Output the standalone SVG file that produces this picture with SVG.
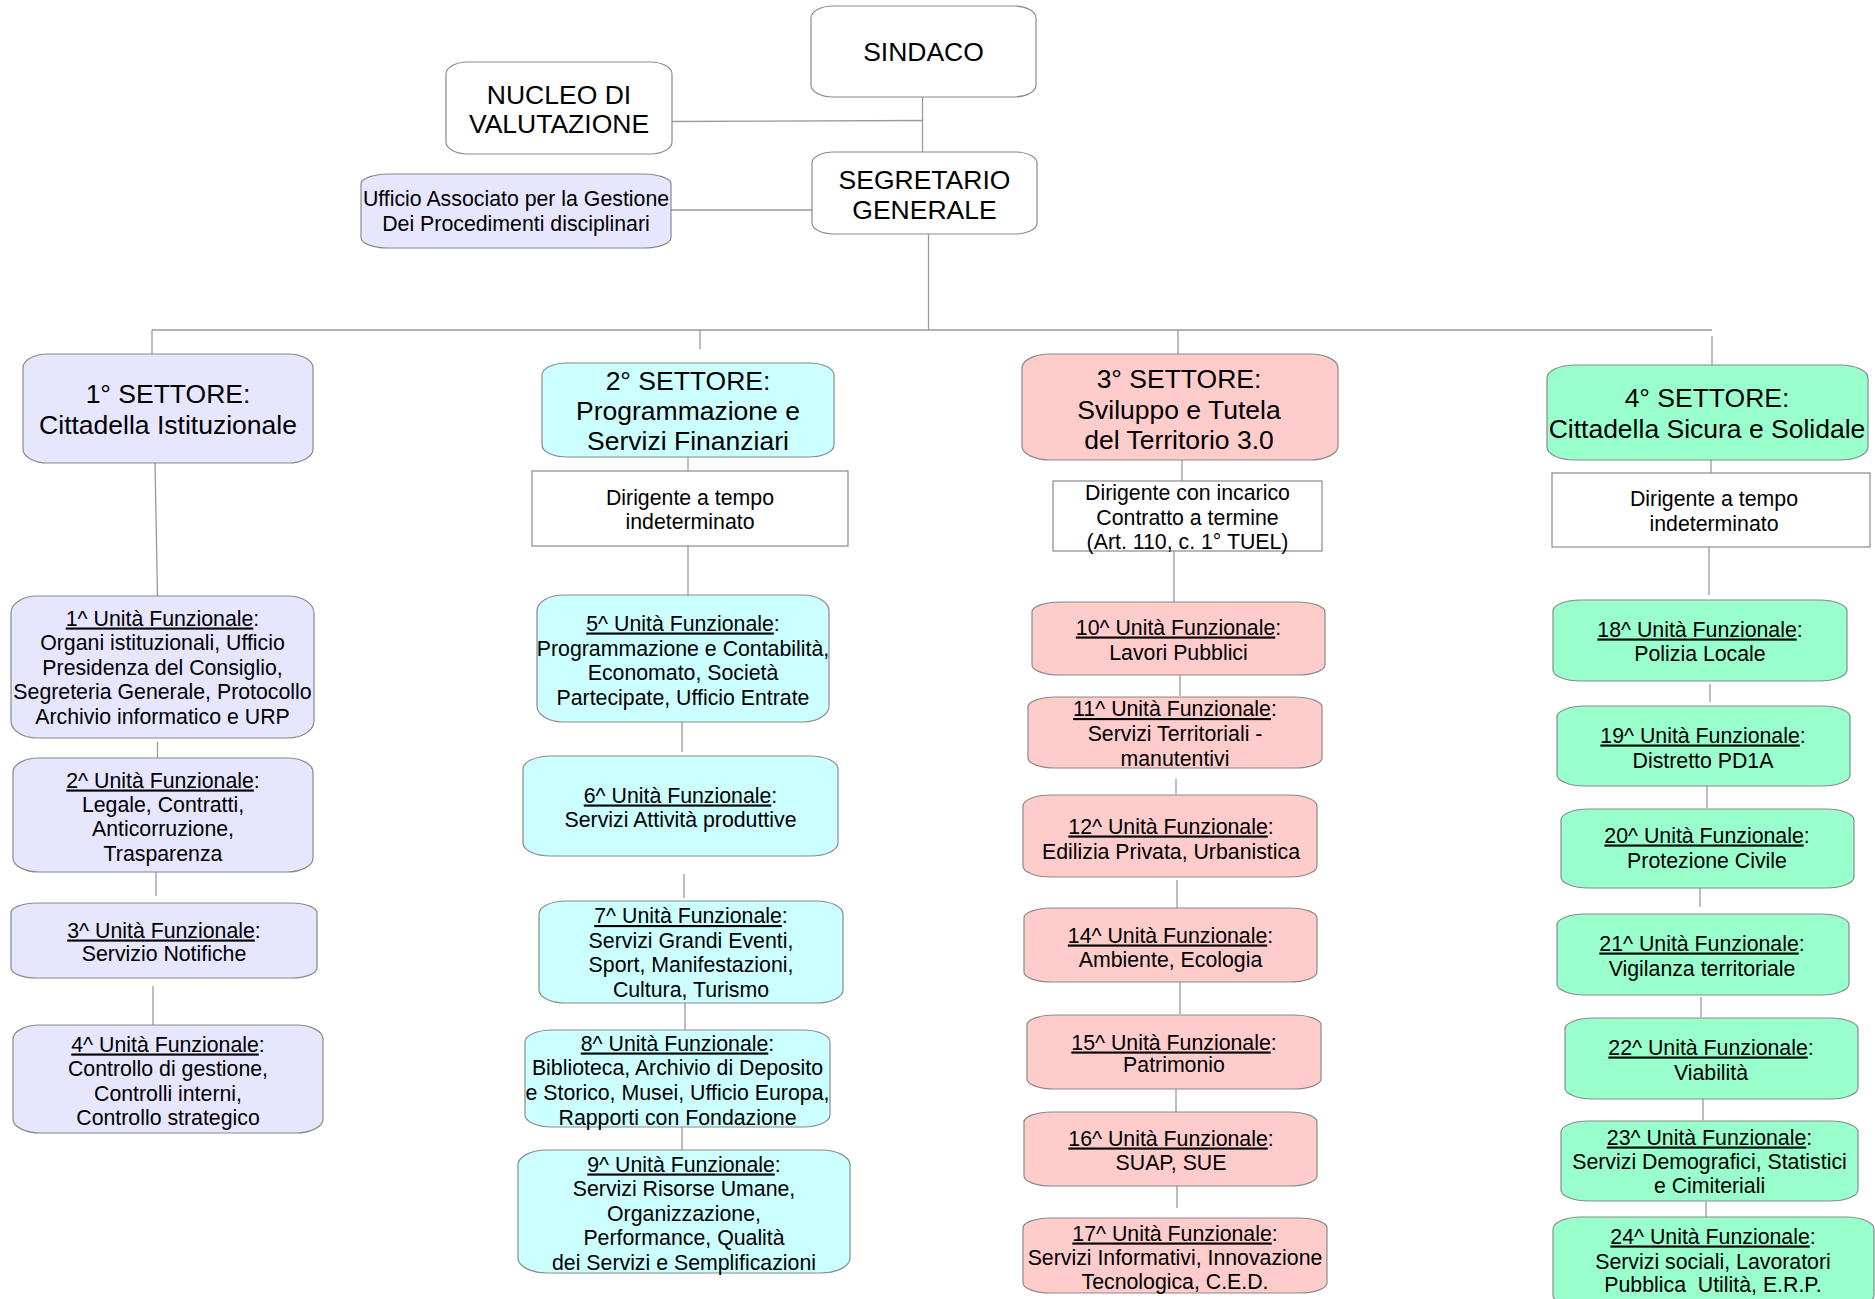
<svg xmlns="http://www.w3.org/2000/svg" width="1875" height="1299" viewBox="0 0 1875 1299">
<style>
.b{stroke:#8a8a8a;stroke-width:1.2}
.wht{fill:#ffffff}
.lav{fill:#e6e6ff}
.cya{fill:#ccffff}
.pnk{fill:#ffcccc}
.grn{fill:#99ffcc}
.t{font-family:"Liberation Sans",Arial,sans-serif;font-size:21.3px;fill:#000;text-anchor:middle}
.T{font-family:"Liberation Sans",Arial,sans-serif;font-size:26.5px;fill:#000;text-anchor:middle}
.u{text-decoration:underline}
#connectors path{fill:none;stroke:#9a9a9a;stroke-width:1.3}
</style>
<rect x="0" y="0" width="1875" height="1299" fill="#ffffff"/>
<g id="connectors">
<path d="M922.5 97 V152"/>
<path d="M672 121.5 L922.5 120.5"/>
<path d="M671 210 H812"/>
<path d="M928.5 234 V330"/>
<path d="M152 330 H1712"/>
<path d="M152 330 V354"/>
<path d="M700 330 V349"/>
<path d="M1178 330 V354"/>
<path d="M1712 336 V365"/>
<path d="M155 463 L157.5 596"/>
<path d="M157.5 742 V758"/>
<path d="M156 872 V896"/>
<path d="M153 986 V1025"/>
<path d="M688 457 V471"/>
<path d="M688 546 V595"/>
<path d="M682 722 V752"/>
<path d="M684 874 V898"/>
<path d="M685 1003 V1030"/>
<path d="M682 1127 V1150"/>
<path d="M1182 460 V482"/>
<path d="M1174 551 V602"/>
<path d="M1180 675 V696"/>
<path d="M1176 779 V794"/>
<path d="M1177 880 V908"/>
<path d="M1180 982 V1014"/>
<path d="M1176 1089 V1112"/>
<path d="M1177 1186 V1208"/>
<path d="M1711 460 V473"/>
<path d="M1709 547 V595"/>
<path d="M1710 684 V702"/>
<path d="M1707 786 V808"/>
<path d="M1700 888 V907"/>
<path d="M1701 997 V1017"/>
<path d="M1703 1099 V1120"/>
<path d="M1706 1201 V1222"/>
</g>

<g id="sindaco"><rect class="b wht" x="811" y="6" width="225" height="91" rx="22" ry="12"/>
<text class="T" x="923.5" y="61">SINDACO</text></g>
<g id="nucleo"><rect class="b wht" x="446" y="62" width="226" height="92" rx="22" ry="12"/>
<text class="T" x="559" y="103.5">NUCLEO DI</text><text class="T" x="559" y="133">VALUTAZIONE</text></g>
<g id="segretario"><rect class="b wht" x="812" y="152" width="225" height="82" rx="22" ry="11"/>
<text class="T" x="924.5" y="189">SEGRETARIO</text><text class="T" x="924.5" y="218.5">GENERALE</text></g>
<g id="ufficio"><rect class="b lav" x="361" y="174" width="310" height="74" rx="28" ry="10"/>
<text class="t" x="516" y="205.5">Ufficio Associato per la Gestione</text><text class="t" x="516" y="231">Dei Procedimenti disciplinari</text></g>

<g id="settore1"><rect class="b lav" x="23" y="354" width="290" height="109" rx="25" ry="14"/>
<text class="T" x="168" y="403">1° SETTORE:</text><text class="T" x="168" y="434">Cittadella Istituzionale</text></g>
<g id="uf1"><rect class="b lav" x="11" y="596" width="303" height="142" rx="26" ry="17"/>
<text class="t" x="162.5" y="625.5"><tspan class="u">1^ Unità Funzionale</tspan>:</text>
<text class="t" x="162.5" y="650">Organi istituzionali, Ufficio</text>
<text class="t" x="162.5" y="674.5">Presidenza del Consiglio,</text>
<text class="t" x="162.5" y="699">Segreteria Generale, Protocollo</text>
<text class="t" x="162.5" y="723.5">Archivio informatico e URP</text></g>
<g id="uf2"><rect class="b lav" x="13" y="758" width="300" height="114" rx="26" ry="14"/>
<text class="t" x="163" y="787.5"><tspan class="u">2^ Unità Funzionale</tspan>:</text>
<text class="t" x="163" y="811.5">Legale, Contratti,</text>
<text class="t" x="163" y="836">Anticorruzione,</text>
<text class="t" x="163" y="860.5">Trasparenza</text></g>
<g id="uf3"><rect class="b lav" x="11" y="903" width="306" height="75" rx="26" ry="10"/>
<text class="t" x="164" y="937.5"><tspan class="u">3^ Unità Funzionale</tspan>:</text>
<text class="t" x="164" y="960.5">Servizio Notifiche</text></g>
<g id="uf4"><rect class="b lav" x="13" y="1025" width="310" height="108" rx="27" ry="14"/>
<text class="t" x="168" y="1051.5"><tspan class="u">4^ Unità Funzionale</tspan>:</text>
<text class="t" x="168" y="1076">Controllo di gestione,</text>
<text class="t" x="168" y="1100.5">Controlli interni,</text>
<text class="t" x="168" y="1125">Controllo strategico</text></g>

<g id="settore2"><rect class="b cya" x="542" y="363" width="292" height="94" rx="25" ry="12"/>
<text class="T" x="688" y="389.5">2° SETTORE:</text><text class="T" x="688" y="419.5">Programmazione e</text><text class="T" x="688" y="449.5">Servizi Finanziari</text></g>
<g id="dirigente2"><rect class="b wht" x="532" y="471" width="316" height="75"/>
<text class="t" x="690" y="504.5">Dirigente a tempo</text><text class="t" x="690" y="528.5">indeterminato</text></g>
<g id="uf5"><rect class="b cya" x="537" y="595" width="292" height="127" rx="26" ry="16"/>
<text class="t" x="683" y="630.5"><tspan class="u">5^ Unità Funzionale</tspan>:</text>
<text class="t" x="683" y="655.5">Programmazione e Contabilità,</text>
<text class="t" x="683" y="680">Economato, Società</text>
<text class="t" x="683" y="704.5">Partecipate, Ufficio Entrate</text></g>
<g id="uf6"><rect class="b cya" x="523" y="756" width="315" height="100" rx="28" ry="13"/>
<text class="t" x="680.5" y="802.5"><tspan class="u">6^ Unità Funzionale</tspan>:</text>
<text class="t" x="680.5" y="827">Servizi Attività produttive</text></g>
<g id="uf7"><rect class="b cya" x="539" y="901" width="304" height="102" rx="27" ry="13"/>
<text class="t" x="691" y="923"><tspan class="u">7^ Unità Funzionale</tspan>:</text>
<text class="t" x="691" y="947.5">Servizi Grandi Eventi,</text>
<text class="t" x="691" y="972">Sport, Manifestazioni,</text>
<text class="t" x="691" y="996.5">Cultura, Turismo</text></g>
<g id="uf8"><rect class="b cya" x="525" y="1030" width="305" height="97" rx="27" ry="12"/>
<text class="t" x="677.5" y="1050.5"><tspan class="u">8^ Unità Funzionale</tspan>:</text>
<text class="t" x="677.5" y="1074.5">Biblioteca, Archivio di Deposito</text>
<text class="t" x="677.5" y="1099.5">e Storico, Musei, Ufficio Europa,</text>
<text class="t" x="677.5" y="1124.5">Rapporti con Fondazione</text></g>
<g id="uf9"><rect class="b cya" x="518" y="1150" width="332" height="123" rx="29" ry="15"/>
<text class="t" x="684" y="1171.5"><tspan class="u">9^ Unità Funzionale</tspan>:</text>
<text class="t" x="684" y="1196">Servizi Risorse Umane,</text>
<text class="t" x="684" y="1220.5">Organizzazione,</text>
<text class="t" x="684" y="1245">Performance, Qualità</text>
<text class="t" x="684" y="1269.5">dei Servizi e Semplificazioni</text></g>

<g id="settore3"><rect class="b pnk" x="1022" y="354" width="316" height="106" rx="28" ry="14"/>
<text class="T" x="1179" y="388">3° SETTORE:</text><text class="T" x="1179" y="418.5">Sviluppo e Tutela</text><text class="T" x="1179" y="448.5">del Territorio 3.0</text></g>
<g id="dirigente3"><rect class="b wht" x="1053" y="481" width="269" height="70"/>
<text class="t" x="1187.5" y="499.5">Dirigente con incarico</text><text class="t" x="1187.5" y="524.5">Contratto a termine</text><text class="t" x="1187.5" y="548.5">(Art. 110, c. 1° TUEL)</text></g>
<g id="uf10"><rect class="b pnk" x="1032" y="602" width="293" height="73" rx="28" ry="10"/>
<text class="t" x="1178.5" y="634.5"><tspan class="u">10^ Unità Funzionale</tspan>:</text>
<text class="t" x="1178.5" y="659.5">Lavori Pubblici</text></g>
<g id="uf11"><rect class="b pnk" x="1028" y="697" width="294" height="71" rx="28" ry="10"/>
<text class="t" x="1175" y="716"><tspan class="u">11^ Unità Funzionale</tspan>:</text>
<text class="t" x="1175" y="741">Servizi Territoriali -</text>
<text class="t" x="1175" y="765.5">manutentivi</text></g>
<g id="uf12"><rect class="b pnk" x="1023" y="795" width="294" height="82" rx="28" ry="11"/>
<text class="t" x="1171" y="833.5"><tspan class="u">12^ Unità Funzionale</tspan>:</text>
<text class="t" x="1171" y="858.5">Edilizia Privata, Urbanistica</text></g>
<g id="uf14"><rect class="b pnk" x="1024" y="908" width="293" height="74" rx="28" ry="10"/>
<text class="t" x="1170.5" y="942.5"><tspan class="u">14^ Unità Funzionale</tspan>:</text>
<text class="t" x="1170.5" y="966.5">Ambiente, Ecologia</text></g>
<g id="uf15"><rect class="b pnk" x="1027" y="1015" width="294" height="74" rx="28" ry="10"/>
<text class="t" x="1174" y="1049.5"><tspan class="u">15^ Unità Funzionale</tspan>:</text>
<text class="t" x="1174" y="1072">Patrimonio</text></g>
<g id="uf16"><rect class="b pnk" x="1024" y="1112" width="293" height="74" rx="28" ry="10"/>
<text class="t" x="1171" y="1145.5"><tspan class="u">16^ Unità Funzionale</tspan>:</text>
<text class="t" x="1171" y="1169.5">SUAP, SUE</text></g>
<g id="uf17"><rect class="b pnk" x="1023" y="1218" width="304" height="75" rx="28" ry="10"/>
<text class="t" x="1175" y="1240.5"><tspan class="u">17^ Unità Funzionale</tspan>:</text>
<text class="t" x="1175" y="1264.5">Servizi Informativi, Innovazione</text>
<text class="t" x="1175" y="1288.5">Tecnologica, C.E.D.</text></g>

<g id="settore4"><rect class="b grn" x="1547" y="365" width="321" height="95" rx="28" ry="13"/>
<text class="T" x="1707" y="406.5">4° SETTORE:</text><text class="T" x="1707" y="437.5">Cittadella Sicura e Solidale</text></g>
<g id="dirigente4"><rect class="b wht" x="1552" y="473" width="318" height="74"/>
<text class="t" x="1714" y="505.5">Dirigente a tempo</text><text class="t" x="1714" y="530.5">indeterminato</text></g>
<g id="uf18"><rect class="b grn" x="1553" y="600" width="294" height="81" rx="28" ry="11"/>
<text class="t" x="1700" y="636.5"><tspan class="u">18^ Unità Funzionale</tspan>:</text>
<text class="t" x="1700" y="661">Polizia Locale</text></g>
<g id="uf19"><rect class="b grn" x="1557" y="706" width="293" height="80" rx="28" ry="11"/>
<text class="t" x="1703" y="742.5"><tspan class="u">19^ Unità Funzionale</tspan>:</text>
<text class="t" x="1703" y="767.5">Distretto PD1A</text></g>
<g id="uf20"><rect class="b grn" x="1561" y="809" width="293" height="79" rx="28" ry="11"/>
<text class="t" x="1707" y="842.5"><tspan class="u">20^ Unità Funzionale</tspan>:</text>
<text class="t" x="1707" y="867.5">Protezione Civile</text></g>
<g id="uf21"><rect class="b grn" x="1557" y="914" width="292" height="81" rx="28" ry="11"/>
<text class="t" x="1702" y="950.5"><tspan class="u">21^ Unità Funzionale</tspan>:</text>
<text class="t" x="1702" y="975.5">Vigilanza territoriale</text></g>
<g id="uf22"><rect class="b grn" x="1565" y="1018" width="293" height="81" rx="28" ry="11"/>
<text class="t" x="1711" y="1054.5"><tspan class="u">22^ Unità Funzionale</tspan>:</text>
<text class="t" x="1711" y="1079.5">Viabilità</text></g>
<g id="uf23"><rect class="b grn" x="1561" y="1121" width="297" height="80" rx="28" ry="11"/>
<text class="t" x="1709.5" y="1144.5"><tspan class="u">23^ Unità Funzionale</tspan>:</text>
<text class="t" x="1709.5" y="1168.5">Servizi Demografici, Statistici</text>
<text class="t" x="1709.5" y="1192.5">e Cimiteriali</text></g>
<g id="uf24"><rect class="b grn" x="1553" y="1217" width="321" height="90" rx="28" ry="12"/>
<text class="t" x="1713" y="1243.5"><tspan class="u">24^ Unità Funzionale</tspan>:</text>
<text class="t" x="1713" y="1268.5">Servizi sociali, Lavoratori</text>
<text class="t" x="1713" y="1291.5">Pubblica&#160; Utilità, E.R.P.</text></g>
</svg>
